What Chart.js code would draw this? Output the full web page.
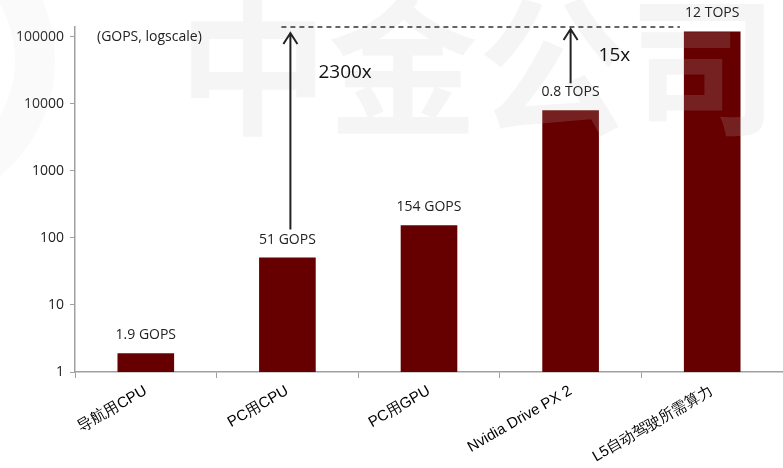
<!DOCTYPE html>
<html>
<head>
<meta charset="utf-8">
<script src="https://cdn.jsdelivr.net/npm/chart.js@4/dist/chart.umd.min.js"></script>
<style>
  html, body { margin: 0; padding: 0; background: #fff; }
  #wrap { width: 783px; height: 468px; position: relative; }
</style>
</head>
<body>
<div id="wrap"><canvas id="chart"></canvas></div>
<script>
// categorias e valores (GOPS, escala log)
const categorias = ['导航用CPU', 'PC用CPU', 'PC用GPU', 'Nvidia Drive PX 2', 'L5自动驾驶所需算力'];
const valores = [1.9, 51, 154, 8000, 120000];
const rotulos = ['1.9 GOPS', '51 GOPS', '154 GOPS', '0.8 TOPS', '12 TOPS'];
const ticksY = [1, 10, 100, 1000, 10000, 100000];
const topoEixo = 140000;

const corBarra = '#660000';
const corEixo = '#a0a0a0';

// marca d'agua + logo
const marcaDagua = {
  id: 'marcaDagua',
  afterDatasetsDraw(chart) {
    const ctx = chart.ctx;
    ctx.save();
    ctx.fillStyle = 'rgba(195,195,195,0.17)';
    ctx.font = 'bold 150px "Noto Sans CJK SC"';
    ctx.textBaseline = 'middle';
    ctx.textAlign = 'left';
    ctx.fillText('中金公司', 178, 66);
    ctx.strokeStyle = 'rgba(200,200,200,0.09)';
    ctx.lineWidth = 40;
    ctx.beginPath();
    ctx.arc(-95, 60, 130, -1.2, 1.2);
    ctx.stroke();
    ctx.restore();
  }
};

// rotulos das barras e setas
const anotacoes = {
  id: 'anotacoes',
  afterDraw(chart) {
    const ctx = chart.ctx;
    const xs = chart.scales.x, ys = chart.scales.y;
    const meta = chart.getDatasetMeta(0);
    ctx.save();
    ctx.fillStyle = '#222';
    ctx.font = '14px "Open Sans"';
    ctx.textAlign = 'center';
    ctx.textBaseline = 'middle';
    meta.data.forEach((bar, i) => {
      ctx.fillText(rotulos[i], bar.x, bar.y - 18);
    });

    // texto do eixo
    ctx.textAlign = 'left';
    ctx.fillText('(GOPS, logscale)', xs.left + 22, ys.getPixelForValue(100000));

    // linha tracejada
    const yTopo = ys.getPixelForValue(topoEixo);
    const larg = meta.data[4].width;
    ctx.strokeStyle = '#333';
    ctx.lineWidth = 1.3;
    ctx.setLineDash([5, 4]);
    ctx.beginPath();
    ctx.moveTo(xs.getPixelForValue(1) - 6, yTopo);
    ctx.lineTo(xs.getPixelForValue(4) - larg / 2 - 4, yTopo);
    ctx.stroke();
    ctx.setLineDash([]);

    // setas
    const seta = (x, y0, y1) => {
      ctx.lineWidth = 2;
      ctx.strokeStyle = '#222';
      ctx.beginPath();
      ctx.moveTo(x, y0);
      ctx.lineTo(x, y1);
      ctx.moveTo(x - 7, y1 + 11);
      ctx.lineTo(x, y1);
      ctx.lineTo(x + 7, y1 + 11);
      ctx.stroke();
    };
    seta(meta.data[1].x + 3, meta.data[1].y - 28, yTopo + 6);
    seta(meta.data[3].x, meta.data[3].y - 27, yTopo + 2);

    ctx.font = '19px "Open Sans"';
    ctx.fillStyle = '#111';
    ctx.fillText('2300x', meta.data[1].x + 31, yTopo + 46);
    ctx.fillText('15x', meta.data[3].x + 28, yTopo + 29);
    ctx.restore();
  }
};

new Chart(document.getElementById('chart'), {
  type: 'bar',
  data: {
    labels: categorias,
    datasets: [{
      data: valores,
      backgroundColor: corBarra,
      barPercentage: 0.4,
      categoryPercentage: 1
    }]
  },
  options: {
    responsive: true,
    maintainAspectRatio: false,
    animation: false,
    layout: { padding: { top: 27, left: 0, right: 0, bottom: 0 } },
    plugins: { legend: { display: false }, tooltip: { enabled: false } },
    scales: {
      x: {
        grid: { drawOnChartArea: false, tickLength: 6, color: corEixo, offset: true },
        border: { color: corEixo, width: 1.5 },
        ticks: {
          color: '#000',
          font: { family: '"Liberation Sans", Arial', size: 15 },
          minRotation: 30,
          maxRotation: 30,
          autoSkip: false,
          padding: 4
        },
        afterFit(s) { s.height = 96; }
      },
      y: {
        type: 'logarithmic',
        min: 1,
        max: topoEixo,
        afterBuildTicks(s) { s.ticks = ticksY.map(v => ({ value: v })); },
        grid: { drawOnChartArea: false, tickLength: 5, color: corEixo },
        border: { color: corEixo, width: 1.5 },
        ticks: {
          color: '#222',
          font: { family: '"Open Sans"', size: 14 },
          padding: 6,
          callback: v => String(v)
        },
        afterFit(s) { s.width = 75; }
      }
    }
  },
  plugins: [marcaDagua, anotacoes]
});
</script>
</body>
</html>
